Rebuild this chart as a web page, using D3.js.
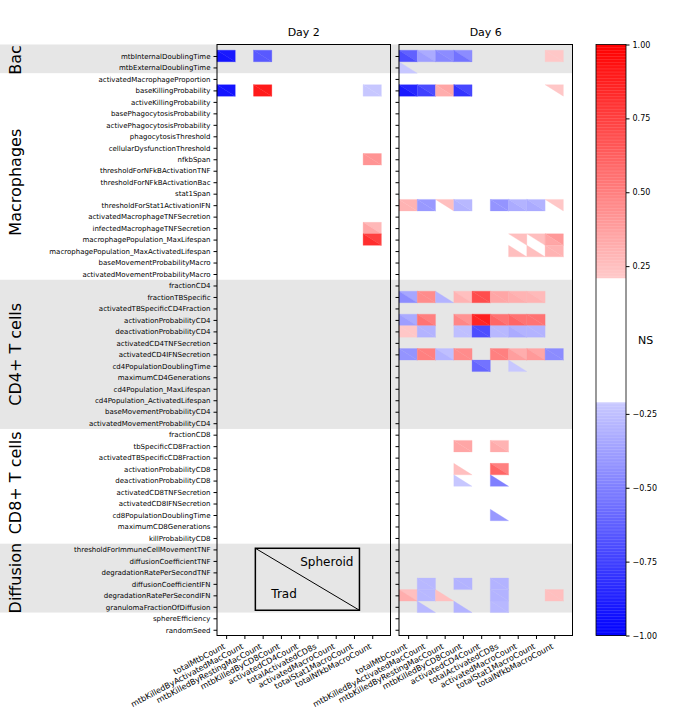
<!DOCTYPE html>
<html>
<head>
<meta charset="utf-8">
<script src="https://cdn.jsdelivr.net/npm/d3@7"></script>
<style>
  body { margin: 0; background: #fff; }
  text { font-family: "DejaVu Sans", sans-serif; }
</style>
</head>
<body>
<svg id="chart" width="700" height="726"></svg>
<script>
// parameters (rows), top to bottom
var params = [
  "mtbInternalDoublingTime", "mtbExternalDoublingTime",
  "activatedMacrophageProportion", "baseKillingProbability", "activeKillingProbability",
  "basePhagocytosisProbability", "activePhagocytosisProbability", "phagocytosisThreshold",
  "cellularDysfunctionThreshold", "nfkbSpan", "thresholdForNFkBActivationTNF",
  "thresholdForNFkBActivationBac", "stat1Span", "thresholdForStat1ActivationIFN",
  "activatedMacrophageTNFSecretion", "infectedMacrophageTNFSecretion",
  "macrophagePopulation_MaxLifespan", "macrophagePopulation_MaxActivatedLifespan",
  "baseMovementProbabilityMacro", "activatedMovementProbabilityMacro",
  "fractionCD4", "fractionTBSpecific", "activatedTBSpecificCD4Fraction",
  "activationProbabilityCD4", "deactivationProbabilityCD4", "activatedCD4TNFSecretion",
  "activatedCD4IFNSecretion", "cd4PopulationDoublingTime", "maximumCD4Generations",
  "cd4Population_MaxLifespan", "cd4Population_ActivatedLifespan",
  "baseMovementProbabilityCD4", "activatedMovementProbabilityCD4",
  "fractionCD8", "tbSpecificCD8Fraction", "activatedTBSpecificCD8Fraction",
  "activationProbabilityCD8", "deactivationProbabilityCD8", "activatedCD8TNFSecretion",
  "activatedCD8IFNSecretion", "cd8PopulationDoublingTime", "maximumCD8Generations",
  "killProbabilityCD8",
  "thresholdForImmuneCellMovementTNF", "diffusionCoefficientTNF", "degradationRatePerSecondTNF",
  "diffusionCoefficientIFN", "degradationRatePerSecondIFN", "granulomaFractionOfDiffusion",
  "sphereEfficiency", "randomSeed"
];

// groups: name, first row, last row, shaded, label row position
var groups = [
  ["Bac", 0, 1, true, 0.35],
  ["Macrophages", 2, 19, false, 11.0],
  ["CD4+ T cells", 20, 32, true, 26.0],
  ["CD8+ T cells", 33, 42, false, 37.2],
  ["Diffusion", 43, 48, true, 45.5]
];

// outputs (columns)
var outputs = [
  "totalMtbCount", "mtbKilledByActivatedMacCount", "mtbKilledByRestingMacCount",
  "mtbKilledByCD8Count", "activatedCD4Count", "totalActivatedCD8s",
  "activatedMacroCount", "totalStat1MacroCount", "totalNfkbMacroCount"
];

var days = ["Day 2", "Day 6"];

// correlation values, null = not significant
// spheroid = upper right triangle, trad = lower left triangle
var n = null;
var day2Spheroid = {
  mtbInternalDoublingTime:          [-0.90, n, -0.65, n, n, n, n, n, n],
  baseKillingProbability:           [-0.92, n, 0.90, n, n, n, n, n, -0.22],
  nfkbSpan:                         [n, n, n, n, n, n, n, n, 0.42],
  infectedMacrophageTNFSecretion:   [n, n, n, n, n, n, n, n, 0.28],
  macrophagePopulation_MaxLifespan: [n, n, n, n, n, n, n, n, 0.75]
};
var day2Trad = {
  mtbInternalDoublingTime:          [-0.92, n, -0.65, n, n, n, n, n, n],
  baseKillingProbability:           [-0.92, n, 0.90, n, n, n, n, n, -0.22],
  nfkbSpan:                         [n, n, n, n, n, n, n, n, 0.42],
  infectedMacrophageTNFSecretion:   [n, n, n, n, n, n, n, n, 0.35],
  macrophagePopulation_MaxLifespan: [n, n, n, n, n, n, n, n, 0.82]
};
var day6Spheroid = {
  mtbInternalDoublingTime:          [-0.62, -0.33, -0.45, -0.45, n, n, n, n, 0.22],
  baseKillingProbability:           [-0.85, -0.70, 0.35, -0.72, n, n, n, n, 0.22],
  thresholdForStat1ActivationIFN:   [0.30, -0.40, 0.25, -0.28, n, -0.42, -0.30, -0.30, 0.22],
  macrophagePopulation_MaxLifespan: [n, n, n, n, n, n, 0.25, 0.25, 0.40],
  macrophagePopulation_MaxActivatedLifespan: [n, n, n, n, n, n, n, n, 0.30],
  fractionTBSpecific:               [-0.35, 0.45, n, 0.25, 0.70, 0.35, 0.30, 0.27, n],
  activationProbabilityCD4:         [-0.33, 0.50, n, 0.42, 0.88, 0.55, 0.55, 0.55, n],
  deactivationProbabilityCD4:       [0.22, -0.30, n, -0.25, -0.70, -0.28, -0.30, -0.30, n],
  activatedCD4IFNSecretion:         [-0.42, 0.50, -0.25, 0.45, n, 0.50, 0.32, 0.35, -0.45],
  cd4PopulationDoublingTime:        [n, n, n, n, -0.55, n, n, n, n],
  tbSpecificCD8Fraction:            [n, n, n, 0.35, n, 0.30, n, n, n],
  activationProbabilityCD8:         [n, n, n, n, n, 0.50, n, n, n],
  diffusionCoefficientIFN:          [n, -0.28, n, -0.30, n, -0.30, n, n, n],
  degradationRatePerSecondIFN:      [0.25, -0.28, n, n, n, -0.30, n, n, 0.25],
  granulomaFractionOfDiffusion:     [n, n, n, n, n, -0.28, n, n, n]
};
var day6Trad = {
  mtbInternalDoublingTime:          [-0.70, -0.38, -0.47, -0.55, n, n, n, n, 0.22],
  mtbExternalDoublingTime:          [-0.22, n, n, n, n, n, n, n, n],
  baseKillingProbability:           [-0.90, -0.75, 0.32, -0.80, n, n, n, n, n],
  thresholdForStat1ActivationIFN:   [0.30, -0.40, n, -0.30, n, -0.42, -0.33, -0.33, n],
  macrophagePopulation_MaxLifespan: [n, n, n, n, n, n, n, n, 0.35],
  macrophagePopulation_MaxActivatedLifespan: [n, n, n, n, n, n, 0.25, 0.25, 0.30],
  fractionTBSpecific:               [-0.45, 0.45, -0.30, 0.30, 0.70, 0.35, 0.32, 0.30, n],
  activationProbabilityCD4:         [-0.38, 0.55, n, 0.47, 0.85, 0.60, 0.60, 0.55, n],
  deactivationProbabilityCD4:       [0.22, -0.30, n, -0.25, -0.70, -0.28, -0.33, -0.30, n],
  activatedCD4IFNSecretion:         [-0.42, 0.50, -0.30, 0.45, n, 0.50, 0.38, 0.40, -0.45],
  cd4PopulationDoublingTime:        [n, n, n, n, -0.60, n, -0.22, n, n],
  tbSpecificCD8Fraction:            [n, n, n, 0.35, n, 0.33, n, n, n],
  activationProbabilityCD8:         [n, n, n, 0.25, n, 0.60, n, n, n],
  deactivationProbabilityCD8:       [n, n, n, -0.22, n, -0.50, n, n, n],
  cd8PopulationDoublingTime:        [n, n, n, n, n, -0.40, n, n, n],
  diffusionCoefficientIFN:          [n, -0.28, n, -0.30, n, -0.30, n, n, n],
  degradationRatePerSecondIFN:      [0.32, -0.28, 0.25, n, n, -0.30, n, n, 0.25],
  granulomaFractionOfDiffusion:     [n, -0.28, n, -0.30, n, -0.28, n, n, n]
};
var dayData = [[day2Spheroid, day2Trad], [day6Spheroid, day6Trad]];

var cbTicks = [1, 0.75, 0.5, 0.25, 0, -0.25, -0.5, -0.75, -1];
var nsLimit = 0.21;

// layout
var svg = d3.select("#chart");
var panelLeft = [217, 399], panelW = 173.5;
var plotTop = 44.5, plotBottom = 635.5;
var bandGray = "#e6e6e6";

var y = d3.scaleLinear().domain([-1, 50.5]).range([plotTop, plotBottom]);
var x = d3.scaleLinear().domain([0, 9.5]).range([0, panelW]);
var color = d3.scaleLinear().domain([-1, 0, 1]).range(["#0000ff", "#ffffff", "#ff0000"]);

// shaded group bands
groups.forEach(function (g) {
  if (!g[3]) return;
  var y0 = g[1] === 0 ? plotTop : y(g[1] - 0.5);
  svg.append("rect")
    .attr("x", 0).attr("y", y0)
    .attr("width", panelLeft[1] + panelW)
    .attr("height", y(g[2] + 0.5) - y0)
    .attr("fill", bandGray);
});

// group labels
groups.forEach(function (g) {
  svg.append("text")
    .attr("transform", "translate(21,"  + y(g[4]) + ") rotate(-90)")
    .attr("text-anchor", "middle")
    .style("font-size", "16px")
    .text(g[0]);
});

days.forEach(function (day, di) {
  var g = svg.append("g").attr("transform", "translate(" + panelLeft[di] + ",0)");
  var spher = dayData[di][0], trad = dayData[di][1];

  // cells
  params.forEach(function (p, ri) {
    outputs.forEach(function (o, ci) {
      var x0 = x(ci), x1 = x(ci + 1), y0 = y(ri - 0.5), y1 = y(ri + 0.5);
      var s = spher[p] ? spher[p][ci] : null;
      var t = trad[p] ? trad[p][ci] : null;
      if (s != null) {
        g.append("path")
          .attr("d", "M" + x0 + "," + y0 + "L" + x1 + "," + y0 + "L" + x1 + "," + y1 + "Z")
          .attr("fill", color(s)).attr("stroke", color(s)).attr("stroke-width", 0.3);
      }
      if (t != null) {
        g.append("path")
          .attr("d", "M" + x0 + "," + y0 + "L" + x0 + "," + y1 + "L" + x1 + "," + y1 + "Z")
          .attr("fill", color(t)).attr("stroke", color(t)).attr("stroke-width", 0.3);
      }
    });
  });

  // axes
  var yAxis = d3.axisLeft(y)
    .tickValues(d3.range(params.length))
    .tickSize(3.5).tickPadding(3)
    .tickFormat(function (i) { return di === 0 ? params[i] : ""; });
  var ya = g.append("g").call(yAxis);
  ya.select(".domain").remove();
  ya.selectAll("text").style("font-size", "7px").attr("font-family", null);

  var xAxis = d3.axisBottom(x)
    .tickValues(d3.range(outputs.length).map(function (i) { return i + 0.5; }))
    .tickSize(3.5)
    .tickFormat(function (v) { return outputs[Math.floor(v)]; });
  var xa = g.append("g").attr("transform", "translate(0," + plotBottom + ")").call(xAxis);
  xa.select(".domain").remove();
  xa.selectAll("text")
    .attr("font-family", null)
    .style("font-size", "8px")
    .attr("text-anchor", "end")
    .attr("dy", null)
    .attr("y", null)
    .attr("transform", "translate(-0.8,12.5) rotate(-28)");

  // frame
  g.append("rect")
    .attr("x", 0).attr("y", plotTop)
    .attr("width", panelW).attr("height", plotBottom - plotTop)
    .attr("fill", "none").attr("stroke", "#000").attr("stroke-width", 1);

  // title
  g.append("text")
    .attr("x", panelW / 2).attr("y", 36)
    .attr("text-anchor", "middle")
    .style("font-size", "11px")
    .text(day);
});

// legend box (triangle key) in the Day 2 panel
var lg = svg.append("g").attr("transform", "translate(" + panelLeft[0] + ",0)");
var lx0 = x(2.1), lx1 = x(7.8), ly0 = y(42.9), ly1 = y(48.3);
lg.append("rect")
  .attr("x", lx0).attr("y", ly0).attr("width", lx1 - lx0).attr("height", ly1 - ly0)
  .attr("fill", bandGray).attr("stroke", "#000").attr("stroke-width", 1.5);
lg.append("line")
  .attr("x1", lx0).attr("y1", ly0).attr("x2", lx1).attr("y2", ly1)
  .attr("stroke", "#000").attr("stroke-width", 1);
lg.append("text").attr("x", lx1 - 6).attr("y", ly0 + 18)
  .attr("text-anchor", "end").style("font-size", "12px").text("Spheroid");
lg.append("text").attr("x", lx0 + 16).attr("y", ly1 - 12)
  .style("font-size", "12px").text("Trad");

// colorbar
var cbX = 596, cbW = 30;
var cb = d3.scaleLinear().domain([-1, 1]).range([plotBottom, plotTop]);
var steps = d3.range(-1, 1, 0.005);
svg.append("g").selectAll("rect")
  .data(steps)
  .enter()
  .append("rect")
  .attr("x", cbX)
  .attr("y", function (v) { return cb(v + 0.005); })
  .attr("width", cbW)
  .attr("height", function (v) { return cb(v) - cb(v + 0.005) + 0.3; })
  .attr("fill", function (v) {
    var m = v + 0.0025;
    return Math.abs(m) < nsLimit ? "#ffffff" : color(m);
  });
svg.append("rect")
  .attr("x", cbX).attr("y", plotTop).attr("width", cbW).attr("height", plotBottom - plotTop)
  .attr("fill", "none").attr("stroke", "#000").attr("stroke-width", 0.8);

var cbAxis = d3.axisRight(cb)
  .tickValues(cbTicks)
  .tickSize(3.5).tickPadding(3)
  .tickFormat(function (v) { return v === 0 ? "NS" : d3.format(".2f")(v); });
var ca = svg.append("g").attr("transform", "translate(" + (cbX + cbW) + ",0)").call(cbAxis);
ca.select(".domain").remove();
ca.selectAll("text").attr("font-family", null).style("font-size", "8px");
ca.selectAll("text").filter(function (v) { return v === 0; })
  .style("font-size", "11px").attr("x", 12);
ca.selectAll("line").filter(function (v) { return v === 0; }).remove();
</script>
</body>
</html>
